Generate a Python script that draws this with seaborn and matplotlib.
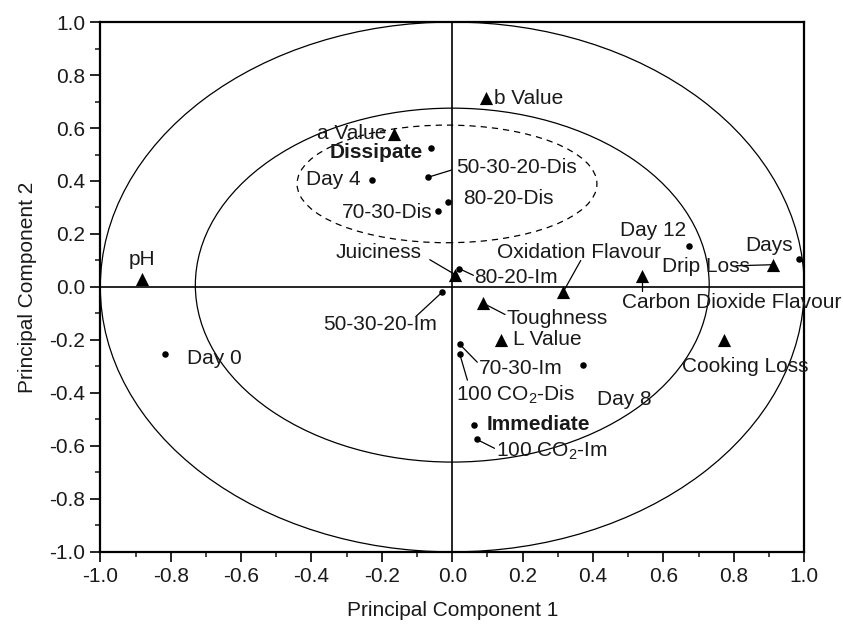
import numpy as np
import pandas as pd
import seaborn as sns
import matplotlib
matplotlib.use("Agg")
import matplotlib.pyplot as plt
from matplotlib.patches import Ellipse
from matplotlib.ticker import MultipleLocator, FuncFormatter

# loadings (triangles)
var_names = ['pH', 'a Value', 'b Value', 'Juiciness', 'Toughness', 'Oxidation Flavour',
             'L Value', 'Carbon Dioxide Flavour', 'Drip Loss', 'Cooking Loss']
var_pc1 = [-0.882, -0.166, 0.097, 0.009, 0.086, 0.315, 0.138, 0.539, 0.910, 0.772]
var_pc2 = [0.030, 0.578, 0.712, 0.046, -0.060, -0.019, -0.200, 0.040, 0.084, -0.200]

# scores (dots)
sample_names = ['Day 0', 'Day 4', 'Day 8', 'Day 12', 'Days', 'Dissipate', 'Immediate',
                '50-30-20-Dis', '80-20-Dis', '70-30-Dis', '80-20-Im', '50-30-20-Im',
                '70-30-Im', '100 CO$_2$-Dis', '100 CO$_2$-Im']
sample_pc1 = [-0.817, -0.229, 0.371, 0.674, 0.984, -0.061, 0.061, -0.069, -0.012, -0.040,
              0.020, -0.029, 0.021, 0.021, 0.069]
sample_pc2 = [-0.254, 0.404, -0.296, 0.156, 0.105, 0.525, -0.520, 0.414, 0.320, 0.285,
              0.069, -0.020, -0.216, -0.252, -0.575]

ticks = [-1.0, -0.8, -0.6, -0.4, -0.2, 0.0, 0.2, 0.4, 0.6, 0.8, 1.0]

# label placement: text anchor, alignment, optional leader line
label_layout = {
    'pH': ((-0.882, 0.103), 'center', None),
    'a Value': ((-0.187, 0.580), 'right', None),
    'b Value': ((0.118, 0.712), 'left', None),
    'Dissipate': ((-0.083, 0.506), 'right', None),
    '50-30-20-Dis': ((0.012, 0.452), 'left', ((-0.003, 0.441), (-0.069, 0.414))),
    'Day 4': ((-0.259, 0.404), 'right', None),
    '80-20-Dis': ((0.031, 0.335), 'left', None),
    '70-30-Dis': ((-0.057, 0.280), 'right', None),
    'Juiciness': ((-0.087, 0.130), 'right', ((-0.064, 0.103), (0.009, 0.046))),
    '80-20-Im': ((0.063, 0.036), 'left', ((0.060, 0.044), (0.020, 0.069))),
    'Oxidation Flavour': ((0.127, 0.130), 'left', ((0.365, 0.100), (0.315, -0.019))),
    'Day 12': ((0.477, 0.213), 'left', None),
    'Days': ((0.833, 0.156), 'left', None),
    'Drip Loss': ((0.596, 0.078), 'left', ((0.806, 0.080), (0.910, 0.084))),
    'Carbon Dioxide Flavour': ((0.483, -0.058), 'left', ((0.539, 0.021), (0.539, -0.014))),
    '50-30-20-Im': ((-0.367, -0.142), 'left', ((-0.103, -0.111), (-0.029, -0.020))),
    'Toughness': ((0.153, -0.120), 'left', ((0.150, -0.104), (0.086, -0.060))),
    'L Value': ((0.173, -0.200), 'left', None),
    'Cooking Loss': ((0.652, -0.301), 'left', None),
    'Day 0': ((-0.755, -0.270), 'left', None),
    '70-30-Im': ((0.077, -0.309), 'left', ((0.071, -0.284), (0.021, -0.216))),
    '100 CO$_2$-Dis': ((0.012, -0.406), 'left', ((0.043, -0.352), (0.021, -0.252))),
    'Day 8': ((0.410, -0.425), 'left', None),
    'Immediate': ((0.097, -0.520), 'left', None),
    '100 CO$_2$-Im': ((0.124, -0.622), 'left', ((0.120, -0.609), (0.069, -0.575))),
}
bold_labels = ['Dissipate', 'Immediate']

sns.set_theme(style='white')
plt.rcParams['font.family'] = ['Liberation Sans', 'DejaVu Sans']
plt.rcParams['mathtext.default'] = 'regular'
plt.rcParams['axes.unicode_minus'] = False

variables = pd.DataFrame({'name': var_names, 'pc1': var_pc1, 'pc2': var_pc2})
samples = pd.DataFrame({'name': sample_names, 'pc1': sample_pc1, 'pc2': sample_pc2})

fig = plt.figure(figsize=(8.43, 6.30), dpi=100)
ax = fig.add_axes([0.119, 0.124, 0.835, 0.841])

# circles
ax.add_patch(Ellipse((0, 0), 2.0, 2.0, fill=False, lw=0.9, color='black'))
ax.add_patch(Ellipse((0, 0.007), 1.46, 1.336, fill=False, lw=0.9, color='black'))
ax.add_patch(Ellipse((-0.015, 0.389), 0.852, 0.444, fill=False, lw=0.9, color='black',
                     linestyle=(0, (5, 4))))

ax.axhline(0, color='black', lw=1.2, zorder=1)
ax.axvline(0, color='black', lw=1.2, zorder=1)

sns.scatterplot(data=variables, x='pc1', y='pc2', marker='^', s=90, color='black',
                linewidth=0, ax=ax, zorder=3)
sns.scatterplot(data=samples, x='pc1', y='pc2', marker='o', s=22, color='black',
                linewidth=0, ax=ax, zorder=3)

for name, ((tx, ty), ha, line) in label_layout.items():
    ax.text(tx, ty, name, ha=ha, va='center', fontsize=15, color='#1a1a1a',
            fontweight='bold' if name in bold_labels else 'normal', zorder=4)
    if line is not None:
        (x1, y1), (x2, y2) = line
        ax.plot([x1, x2], [y1, y2], color='black', lw=0.9, zorder=2)

ax.set_xlim(-1, 1)
ax.set_ylim(-1, 1)
ax.set_xticks(ticks)
ax.set_yticks(ticks)
ax.xaxis.set_minor_locator(MultipleLocator(0.1))
ax.yaxis.set_minor_locator(MultipleLocator(0.1))
fmt = FuncFormatter(lambda v, p: f"{round(v, 1) + 0.0:.1f}")
ax.xaxis.set_major_formatter(fmt)
ax.yaxis.set_major_formatter(fmt)
ax.tick_params(which='major', direction='out', length=7, width=1.2, labelsize=15,
               bottom=True, left=True, top=False, right=False, pad=4, colors='black',
               labelcolor='#1a1a1a')
ax.tick_params(which='minor', direction='out', length=3.5, width=1.2,
               bottom=True, left=True, top=False, right=False)
for sp in ax.spines.values():
    sp.set_linewidth(1.6)
    sp.set_color('black')

ax.set_xlabel('Principal Component 1', fontsize=15, labelpad=11, color='#1a1a1a')
ax.set_ylabel('Principal Component 2', fontsize=15, labelpad=9, color='#1a1a1a')

fig.savefig('out.png', dpi=100)
